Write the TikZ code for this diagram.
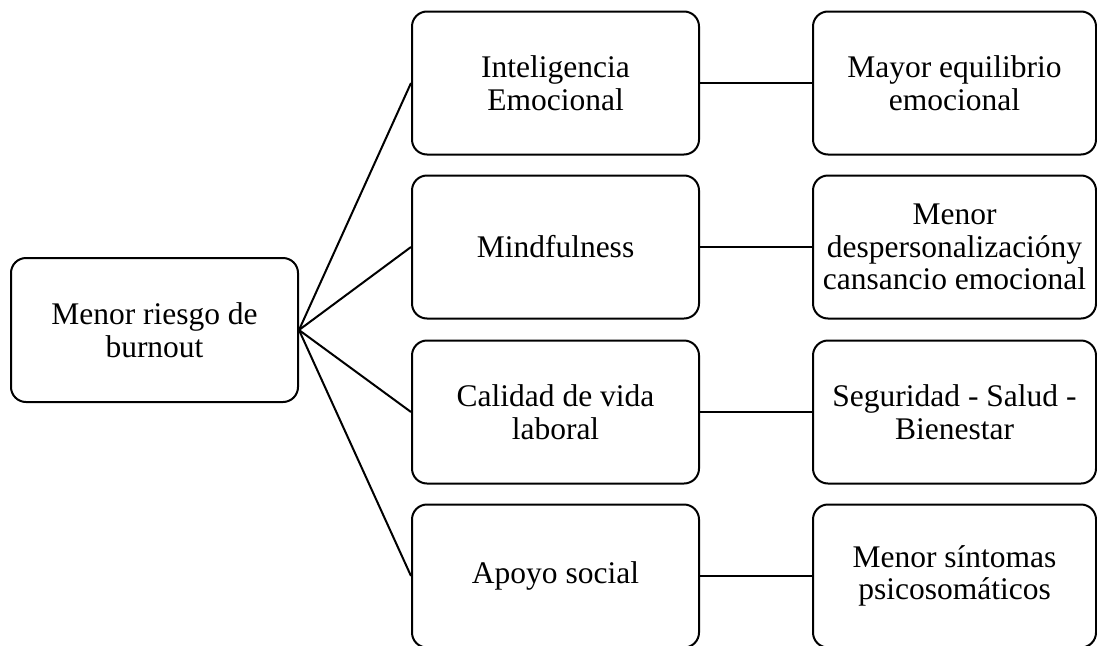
\documentclass[tikz,border=0pt]{standalone}
\usepackage{fontspec}
\setmainfont{Liberation Serif}
\begin{document}
\begin{tikzpicture}[x=1pt,y=-1pt,
  box/.style={draw=black, line width=2pt, rounded corners=15pt, align=center,
    minimum width=287pt, minimum height=143pt, inner sep=0pt,
    font=\fontsize{31.5}{32.5}\selectfont},
  rbox/.style={box, minimum width=283pt},
  link/.style={draw=black, line width=2pt}]
\useasboundingbox (0,0) rectangle (1097,645);
\node[box, minimum height=144pt] (root) at (154.5,330) {Menor riesgo de\\burnout};
\node[box] (m1) at (555.5,83) {Inteligencia\\Emocional};
\node[box] (m2) at (555.5,247) {Mindfulness};
\node[box] (m3) at (555.5,412) {Calidad de vida\\laboral};
\node[box] (m4) at (555.5,576) {Apoyo social};
\node[rbox] (r1) at (954.5,83) {Mayor equilibrio\\emocional};
\node[rbox] (r2) at (954.5,247) {Menor\\despersonalizacióny\\cansancio emocional};
\node[rbox] (r3) at (954.5,412) {Seguridad - Salud -\\Bienestar};
\node[rbox] (r4) at (954.5,576) {Menor síntomas\\psicosomáticos};
\foreach \m in {m1,m2,m3,m4} \draw[link] (root.east) -- (\m.west);
\foreach \i in {1,2,3,4} \draw[link] (m\i.east) -- (r\i.west);
\end{tikzpicture}
\end{document}
